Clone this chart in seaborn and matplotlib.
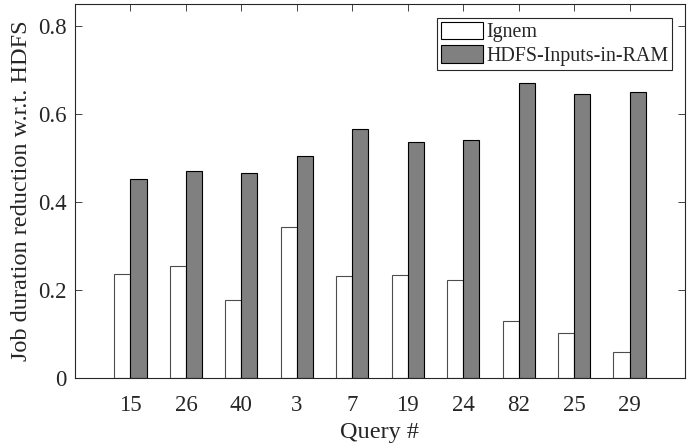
import matplotlib
matplotlib.use("Agg")
import matplotlib.pyplot as plt
import seaborn as sns
import pandas as pd
from matplotlib.ticker import FuncFormatter

queries = ["15", "26", "40", "3", "7", "19", "24", "82", "25", "29"]
ignem = [0.236, 0.255, 0.177, 0.343, 0.232, 0.233, 0.222, 0.129, 0.102, 0.058]
hdfs_ram = [0.452, 0.471, 0.466, 0.505, 0.566, 0.536, 0.540, 0.671, 0.645, 0.649]
series = ["Ignem", "HDFS-Inputs-in-RAM"]

df = pd.DataFrame({
    "query": queries * 2,
    "value": ignem + hdfs_ram,
    "series": [series[0]] * len(queries) + [series[1]] * len(queries),
})

sns.set_theme(style="white")
plt.rcParams["font.family"] = ["Liberation Serif", "DejaVu Serif"]

fig = plt.figure(figsize=(6.9, 4.47), dpi=100)
ax = fig.add_axes([75 / 690, 1 - 378 / 447, 610 / 690, 374 / 447])

sns.barplot(data=df, x="query", y="value", hue="series", order=queries,
            hue_order=series, palette=["#ffffff", "#808080"], width=0.58,
            edgecolor="black", linewidth=0.8, saturation=1, ax=ax)
for p in ax.patches[:len(queries)]:
    p.set_edgecolor("#4d4d4d")

ax.set_xlim(-1, 10)
ax.set_ylim(0, 0.85)
ax.set_yticks([0, 0.2, 0.4, 0.6, 0.8])
ax.yaxis.set_major_formatter(FuncFormatter(lambda v, p: "0" if v == 0 else f"{v:.1f}"))
ax.set_xlabel("Query #", fontsize=17.5)
ax.set_ylabel("Job duration reduction w.r.t. HDFS", fontsize=17.5)
ax.xaxis.set_label_coords(0.5, -0.147)
ax.yaxis.set_label_coords(-0.087, 0.5)
ax.xaxis.label.set_va("center")
ax.yaxis.label.set_va("center")
ax.tick_params(axis="both", direction="in", labelsize=16.5, length=5, width=0.6,
               top=True, right=True, bottom=True, left=True, colors="#262626")
ax.tick_params(axis="x", pad=12)
ax.tick_params(axis="y", pad=6)
for s in ax.spines.values():
    s.set_visible(True)
    s.set_color("#262626")
    s.set_linewidth(0.8)

leg = ax.legend(loc="upper right", fontsize=14.4, frameon=True, fancybox=False,
                edgecolor="#262626", borderpad=0.2, handlelength=2.1,
                handleheight=0.95, handletextpad=0.15, labelspacing=0.15,
                borderaxespad=0, bbox_to_anchor=(0.979, 0.963))
leg.get_frame().set_linewidth(0.8)
leg.get_frame().set_alpha(1)

fig.savefig("out.png", dpi=100)
